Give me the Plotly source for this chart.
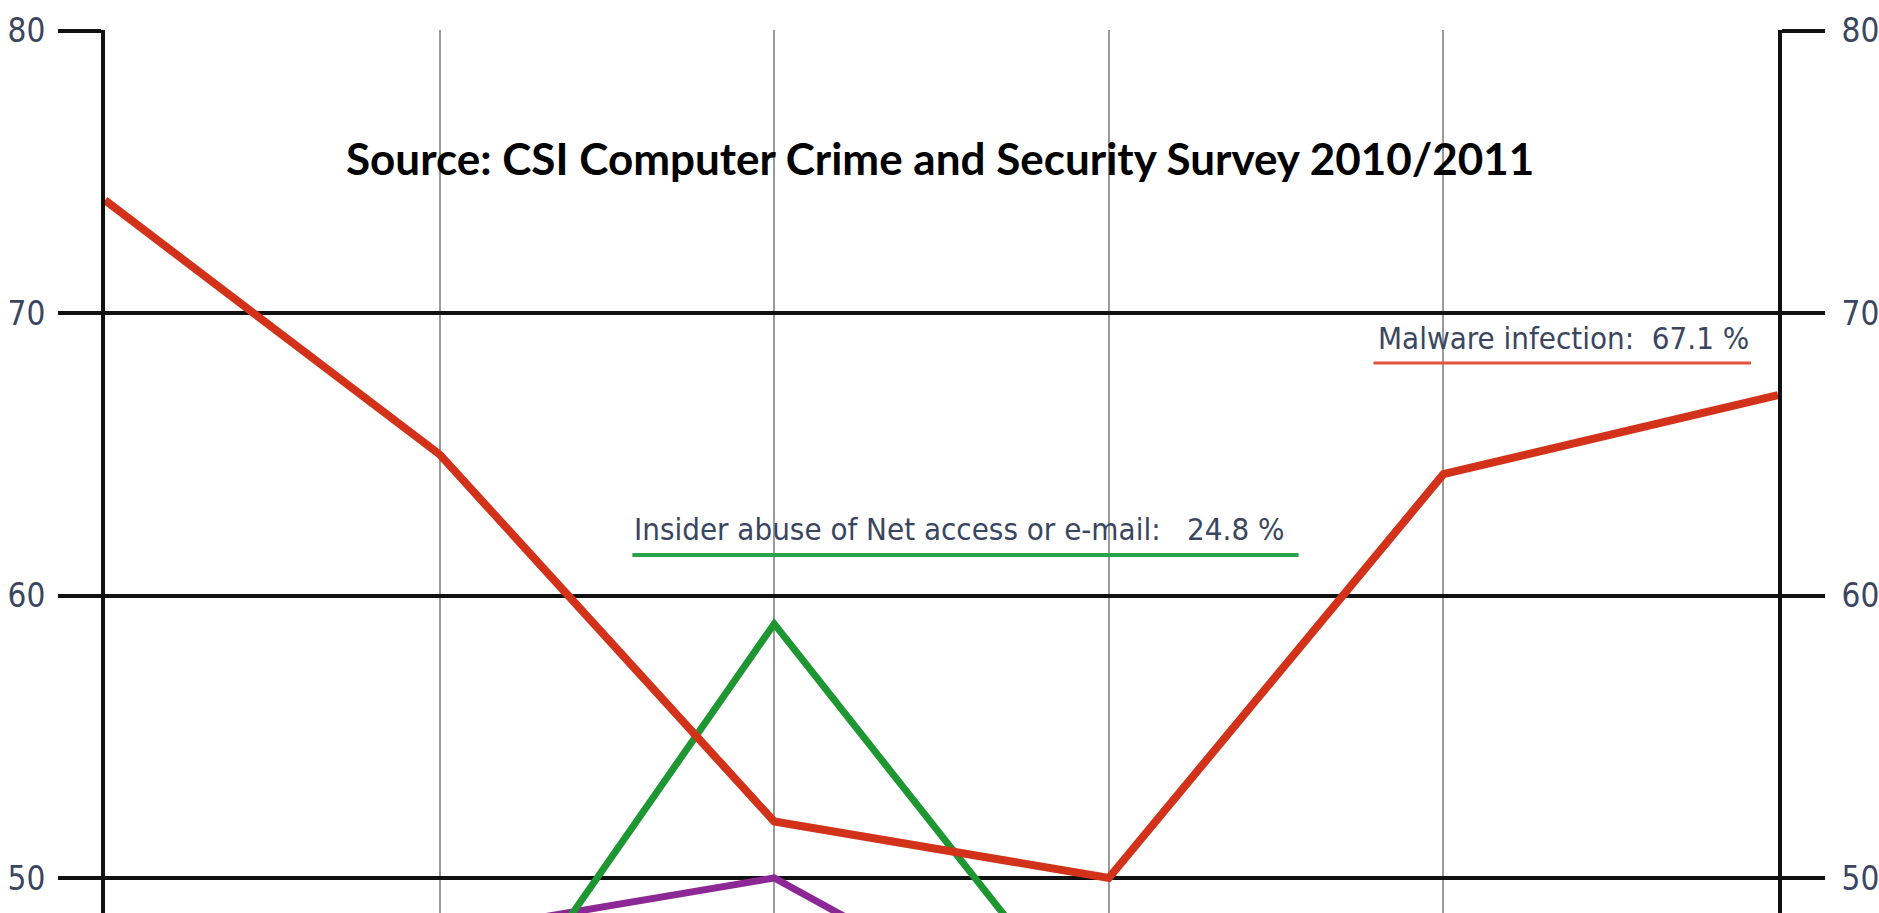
import plotly.graph_objects as go

# ---- data ----
years = ["2005", "2006", "2007", "2008", "2009", "2010"]
malware = [74.0, 65.0, 52.0, 50.0, 64.3, 67.1]
insider = [48.0, 42.0, 59.0, 44.0, 30.0, 24.8]
laptop = [48.0, 48.0, 50.0, 43.5, 42.0, 33.5]
y_ticks = [50, 60, 70, 80]
y_tick_text = ["50", "60", "70", "80"]

title_text = "Source: CSI Computer Crime and Security Survey 2010/2011"
malware_label = "Malware infection:\u00a0\u00a067.1 %"
insider_label = "Insider abuse of Net access or e-mail:\u00a0\u00a0\u00a024.8 %"

# ---- geometry helpers (figure pixels -> paper) ----
W, H = 1879, 913
L, R, T, B = 105, 99, 30, 0
PW, PH = W - L - R, H - T - B


def px(x):
    return (x - L) / PW


def py(y):
    return (H - B - y) / PH


RED = "#d2321a"
GREEN = "#1e9632"
PURPLE = "#8c2896"
LABEL = "#3a4660"
NARROW = "DejaVu Sans Condensed, Liberation Sans, sans-serif"

fig = go.Figure()
fig.add_trace(go.Scatter(x=years, y=laptop, mode="lines",
                         line=dict(color=PURPLE, width=7), showlegend=False))
fig.add_trace(go.Scatter(x=years, y=insider, mode="lines",
                         line=dict(color=GREEN, width=7), showlegend=False))
fig.add_trace(go.Scatter(x=years, y=malware, mode="lines",
                         line=dict(color=RED, width=8), showlegend=False))
# invisible trace to activate right axis
fig.add_trace(go.Scatter(x=years, y=malware, yaxis="y2", mode="lines",
                         line=dict(width=0), opacity=0, hoverinfo="skip",
                         showlegend=False))

yrange = [48.76, 80.03]
tickfont = dict(family=NARROW, size=33, color=LABEL)

fig.update_layout(
    width=W, height=H,
    margin=dict(l=L, r=R, t=T, b=B, pad=0),
    paper_bgcolor="white", plot_bgcolor="white",
    xaxis=dict(type="category", range=[0, 5], showticklabels=False,
               ticks="", showgrid=True, gridcolor="#9a9a9a", gridwidth=2,
               zeroline=False, showline=False, fixedrange=True),
    yaxis=dict(range=yrange, tickvals=y_ticks, ticktext=y_tick_text,
               ticks="outside", ticklen=43, tickwidth=4, tickcolor="#111111",
               showgrid=True, gridcolor="#111111", gridwidth=4,
               zeroline=False, showline=True, linecolor="#111111", linewidth=4,
               tickfont=tickfont, ticklabelstandoff=6),
    yaxis2=dict(range=yrange, tickvals=y_ticks, ticktext=y_tick_text,
                overlaying="y", side="right",
                ticks="outside", ticklen=43, tickwidth=4, tickcolor="#111111",
                showgrid=False, zeroline=False, showline=True,
                linecolor="#111111", linewidth=4,
                tickfont=tickfont, ticklabelstandoff=10),
)

shapes = [
    # white patches behind the labels (break the light gridlines)
    dict(type="rect", xref="paper", yref="paper", layer="between",
         x0=px(1368), x1=px(1764), y0=py(372), y1=py(318),
         fillcolor="white", line=dict(width=0)),
    dict(type="rect", xref="paper", yref="paper", layer="between",
         x0=px(624), x1=px(1310), y0=py(566), y1=py(498),
         fillcolor="white", line=dict(width=0)),
    # underlines
    dict(type="line", xref="paper", yref="paper",
         x0=px(1375), x1=px(1753), y0=py(363), y1=py(363),
         line=dict(color="#e2553a", width=3)),
    dict(type="line", xref="paper", yref="paper",
         x0=px(633), x1=px(1300), y0=py(555), y1=py(555),
         line=dict(color="#2aa14a", width=4)),
]
fig.update_layout(shapes=shapes)

fig.add_annotation(text=title_text, xref="paper", yref="paper",
                   x=px(941), y=py(158), xanchor="center", yanchor="middle",
                   showarrow=False,
                   font=dict(family="Lato", size=44, color="black", weight="bold"))
fig.add_annotation(text=malware_label, xref="paper", yref="paper",
                   x=px(1378), y=py(338), xanchor="left", yanchor="middle",
                   showarrow=False,
                   font=dict(family=NARROW, size=31, color=LABEL))
fig.add_annotation(text=insider_label, xref="paper", yref="paper",
                   x=px(633), y=py(529), xanchor="left", yanchor="middle",
                   showarrow=False,
                   font=dict(family=NARROW, size=31, color=LABEL))

fig.write_html("out.html")
